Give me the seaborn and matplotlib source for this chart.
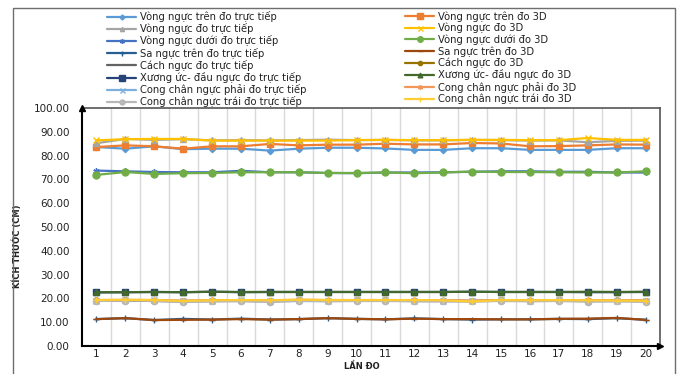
import numpy as np
import pandas as pd
import matplotlib
matplotlib.use("Agg")
import matplotlib.pyplot as plt
import seaborn as sns
from matplotlib.patches import Rectangle

sns.set_theme(style="white")
plt.rcParams['font.family'] = ['DejaVu Sans']

lan_do = list(range(1, 21))

series_names = [
    "Vòng ngực trên đo trực tiếp",
    "Vòng ngực trên đo 3D",
    "Vòng ngực đo trực tiếp",
    "Vòng ngực đo 3D",
    "Vòng ngực dưới đo trực tiếp",
    "Vòng ngực dưới đo 3D",
    "Sa ngực trên đo trực tiếp",
    "Sa ngực trên đo 3D",
    "Cách ngực đo trực tiếp",
    "Cách ngực đo 3D",
    "Xương ức- đầu ngực đo trực tiếp",
    "Xương ức- đầu ngực đo 3D",
    "Cong chân ngực phải đo trực tiếp",
    "Cong chân ngực phải đo 3D",
    "Cong chân ngực trái đo trực tiếp",
    "Cong chân ngực trái đo 3D",
]

vong_nguc_tren_tt = [83.6, 82.9, 83.9, 82.7, 82.9, 82.9, 82.1, 82.9, 83.3, 83.3,
                     83.0, 82.4, 82.4, 83.1, 83.1, 82.4, 82.4, 82.4, 83.1, 83.1]
vong_nguc_tren_3d = [83.6, 84.3, 83.9, 82.9, 83.9, 83.9, 84.9, 84.3, 84.6, 84.6,
                     85.0, 84.7, 84.7, 85.3, 85.1, 83.9, 84.0, 84.3, 84.7, 84.6]
vong_nguc_tt = [85.2, 87.0, 86.6, 86.9, 86.4, 86.5, 86.4, 86.5, 86.7, 86.5,
                86.6, 86.4, 86.4, 86.6, 86.5, 86.3, 86.4, 85.6, 86.2, 86.3]
vong_nguc_3d = [86.4, 86.9, 87.0, 87.0, 86.3, 86.3, 86.3, 86.3, 86.3, 86.5,
                86.6, 86.5, 86.5, 86.6, 86.6, 86.5, 86.5, 87.4, 86.6, 86.6]
vong_nguc_duoi_tt = [73.7, 73.4, 73.1, 73.0, 73.0, 73.6, 73.0, 73.0, 72.7, 72.6,
                     72.9, 72.9, 73.0, 73.2, 73.4, 73.4, 73.2, 73.2, 72.9, 72.9]
vong_nguc_duoi_3d = [71.9, 73.1, 72.3, 72.6, 72.7, 73.0, 73.0, 73.0, 72.7, 72.7,
                     72.9, 72.6, 72.9, 73.3, 73.1, 73.1, 73.0, 72.9, 72.9, 73.4]
sa_nguc_tren_tt = [11.3, 11.7, 10.9, 11.4, 11.1, 11.5, 11.1, 11.3, 11.7, 11.4,
                   11.2, 11.6, 11.3, 11.1, 11.2, 11.2, 11.4, 11.3, 11.7, 11.0]
sa_nguc_tren_3d = [11.3, 11.7, 10.9, 11.0, 11.1, 11.3, 11.1, 11.3, 11.7, 11.4,
                   11.2, 11.5, 11.3, 11.3, 11.2, 11.2, 11.4, 11.5, 11.8, 11.0]
cach_nguc_tt = [19.0, 19.1, 18.9, 18.7, 18.9, 18.9, 18.8, 19.0, 18.9, 19.0,
                19.0, 18.9, 18.9, 18.8, 19.0, 18.9, 19.0, 18.9, 19.0, 18.9]
cach_nguc_3d = [19.2, 19.3, 19.1, 18.9, 19.1, 19.1, 19.0, 19.2, 19.1, 19.2,
                19.2, 19.1, 19.1, 19.0, 19.2, 19.1, 19.2, 19.1, 19.2, 19.1]
xuong_uc_tt = [22.5, 22.6, 22.7, 22.6, 22.8, 22.6, 22.7, 22.7, 22.7, 22.7,
               22.7, 22.7, 22.7, 22.8, 22.7, 22.7, 22.7, 22.6, 22.6, 22.7]
xuong_uc_3d = [22.6, 22.6, 22.7, 22.6, 22.8, 22.7, 22.7, 22.7, 22.7, 22.7,
               22.7, 22.7, 22.7, 22.8, 22.7, 22.7, 22.7, 22.8, 22.7, 22.8]
cong_phai_tt = [19.1, 19.3, 19.2, 18.9, 19.0, 19.2, 19.0, 19.3, 19.1, 19.2,
                19.2, 19.1, 19.1, 18.9, 19.2, 19.1, 19.2, 19.1, 19.1, 19.0]
cong_phai_3d = [19.3, 19.4, 19.3, 19.0, 19.2, 19.3, 19.1, 19.4, 19.3, 19.3,
                19.3, 19.2, 19.2, 19.0, 19.3, 19.2, 19.3, 19.2, 19.2, 19.1]
cong_trai_tt = [18.9, 19.1, 19.0, 18.6, 18.7, 18.9, 18.5, 18.9, 18.8, 18.9,
                18.9, 18.8, 18.7, 18.8, 18.9, 18.8, 18.9, 18.6, 18.7, 18.5]
cong_trai_3d = [19.3, 19.4, 19.3, 18.9, 19.2, 19.3, 19.2, 19.5, 19.3, 19.3,
                19.3, 19.3, 19.2, 18.7, 19.3, 19.2, 19.3, 19.2, 19.1, 19.0]

values = [vong_nguc_tren_tt, vong_nguc_tren_3d, vong_nguc_tt, vong_nguc_3d,
          vong_nguc_duoi_tt, vong_nguc_duoi_3d, sa_nguc_tren_tt, sa_nguc_tren_3d,
          cach_nguc_tt, cach_nguc_3d, xuong_uc_tt, xuong_uc_3d,
          cong_phai_tt, cong_phai_3d, cong_trai_tt, cong_trai_3d]

y_ticks = [0, 10, 20, 30, 40, 50, 60, 70, 80, 90, 100]

colors = ["#5B9BD5", "#ED7D31", "#A5A5A5", "#FFC000", "#4472C4", "#70AD47",
          "#255E91", "#9E480E", "#636363", "#997300", "#264478", "#43682B",
          "#7CAFDD", "#F1975A", "#B7B7B7", "#FFCD33"]
markers = ["D", "s", "^", "x", (6, 2, 0), "o", "+", "_", "", "o", "s", "^",
           "x", (6, 2, 0), "o", "+"]
msizes = [3.2, 4.8, 3.8, 4.5, 4.5, 5.0, 4.5, 4.5, 0, 3.8, 4.8, 4.2, 4.5, 4.5, 4.5, 4.5]

df = pd.DataFrame({"Lần đo": np.tile(lan_do, len(series_names)),
                   "value": np.concatenate(values),
                   "series": np.repeat(series_names, len(lan_do))})

fig = plt.figure(figsize=(6.82, 3.74), dpi=100)
ax = fig.add_axes([82/682, 1-346/374, (660-82)/682, (346-108)/374])

handles = []
for i, name in enumerate(series_names):
    sub = df[df["series"] == name]
    sns.lineplot(data=sub, x="Lần đo", y="value", ax=ax, color=colors[i],
                 marker=markers[i] if markers[i] != "" else None,
                 markersize=msizes[i], markeredgewidth=1.0,
                 markeredgecolor=colors[i], linewidth=1.6, label=name,
                 legend=False, zorder=3 + i * 0.01)
    handles.append(ax.lines[-1])

ax.set_xlim(0.5, 20.5)
ax.set_ylim(0, 100)
ax.set_xticks(lan_do)
ax.set_xticklabels([str(v) for v in lan_do], fontsize=7.5, color="#222222")
ax.set_yticks(y_ticks)
ax.set_yticklabels([f"{v:.2f}" for v in y_ticks], fontsize=7.5, color="#222222")
ax.tick_params(axis="both", length=0)
ax.tick_params(axis="y", pad=9)
ax.tick_params(axis="x", pad=2.5)

for xv in np.arange(1.5, 20.5, 1.0):
    ax.axvline(xv, color="#D9D9D9", lw=1.0, zorder=1)

for s in ["left", "bottom"]:
    ax.spines[s].set_color("black")
    ax.spines[s].set_linewidth(1.5)
for s in ["top", "right"]:
    ax.spines[s].set_color("#555555")
    ax.spines[s].set_linewidth(1.2)

ax.plot([0], [1], marker="^", color="black", markersize=5,
        transform=ax.transAxes, clip_on=False, zorder=10)
ax.plot([1], [0], marker=">", color="black", markersize=5,
        transform=ax.transAxes, clip_on=False, zorder=10)

ax.set_ylabel("KÍCH THƯỚC (CM)", fontsize=6, fontweight="bold", color="#222222")
ax.yaxis.set_label_coords((22-82)/578, 0.42)
ax.set_xlabel("LẦN ĐO", fontsize=6, fontweight="bold", color="#222222")
ax.xaxis.set_label_coords((362-82)/578, (346-362)/238)

left_h = handles[0::2]
right_h = handles[1::2]
leg_kw = dict(frameon=False, fontsize=7.2, handlelength=2.9, handletextpad=0.35,
              labelspacing=0.12, borderpad=0, borderaxespad=0, loc="upper left",
              labelcolor="#222222", markerscale=0.8)
leg1 = fig.legend(left_h, [h.get_label() for h in left_h],
                  bbox_to_anchor=(107/682, 1-11/374), **leg_kw)
leg2 = fig.legend(right_h, [h.get_label() for h in right_h],
                  bbox_to_anchor=(405/682, 1-11/374), **leg_kw)

fig.patches.append(Rectangle((13/682, -0.1), (675-13)/682, 1.1 - 8/374,
                             transform=fig.transFigure, fill=False,
                             edgecolor="#6e6e6e", lw=1.0))

fig.savefig("out.png", dpi=100)
